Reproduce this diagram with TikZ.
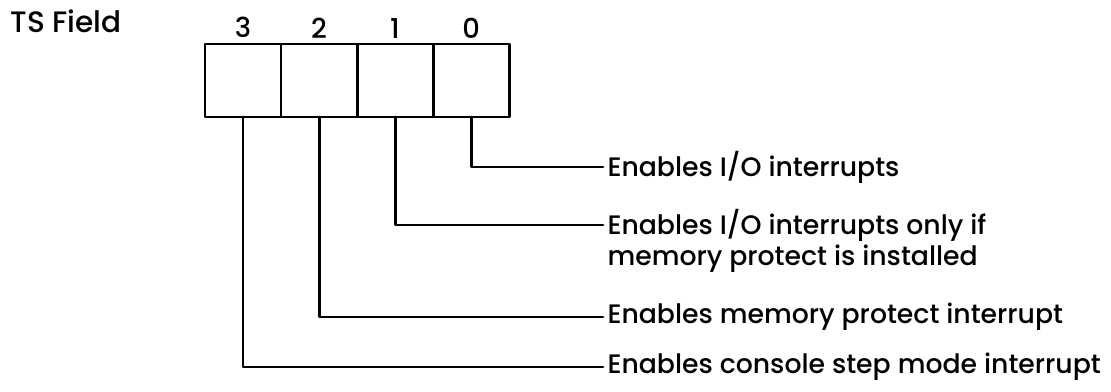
\documentclass[tikz,border=0pt]{standalone}
\usepackage{fontspec}
\setmainfont{Poppins}[BoldFont={Poppins Medium}]
\usetikzlibrary{arrows.meta,positioning}
\tikzset{
  every picture/.style={line join=round, line cap=round, >=Stealth},
  cell/.style={draw, line width=2.1pt, minimum width=1.9cm, minimum height=1.825cm, outer sep=0pt},
  bitno/.style={font=\fontsize{19.5}{22}\selectfont\bfseries, inner sep=2pt},
  lbl/.style={font=\fontsize{19}{22}\selectfont\bfseries, anchor=west, inner sep=3pt},
  lead/.style={line width=2.1pt},
}

\begin{document}
\begin{tikzpicture}[x=0.025cm,y=-0.025cm]
\useasboundingbox (0,0) rectangle (1111,391);
\node[cell] (b3) at (243,80.5) {};
\node[cell,right=0pt of b3] (b2) {};
\node[cell,right=0pt of b2] (b1) {};
\node[cell,right=0pt of b1] (b0) {};
\foreach \i in {3,2,1,0}
  \node[bitno,above=2pt of b\i] (n\i) {\i};
\node[lbl,font=\fontsize{21}{24}\selectfont\bfseries] (ts) at (6,21) {TS Field};
\node[lbl] (t0) at (603,167) {Enables I/O interrupts};
\node[lbl] (t1) at (603,225) {Enables I/O interrupts only if};
\node[lbl,anchor=north west] (t1b) at ([yshift=4pt]t1.south west) {memory protect is installed};
\node[lbl] (t2) at (603,317) {Enables memory protect interrupt};
\node[lbl] (t3) at (603,367) {Enables console step mode interrupt};
\draw[lead] (b0.south) |- (t0.west);
\draw[lead] (b1.south) |- (t1.west);
\draw[lead] (b2.south) |- (t2.west);
\draw[lead] (b3.south) |- (t3.west);
\end{tikzpicture}
\end{document}
